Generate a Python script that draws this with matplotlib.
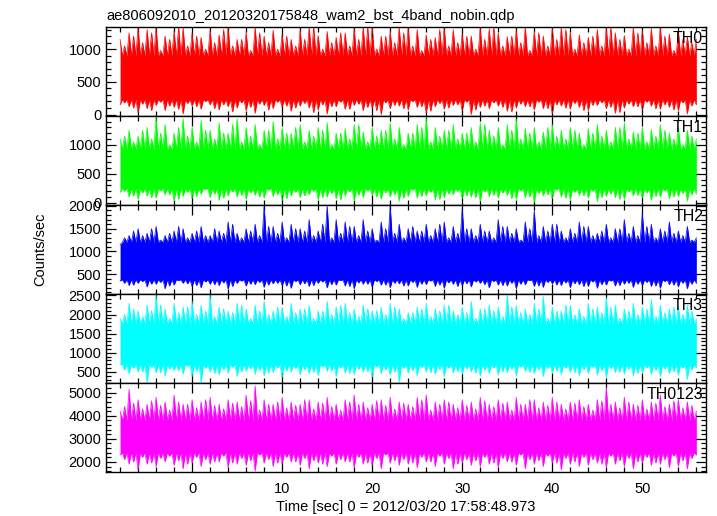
'''
plot.py

light curve of ae806092010 WAM bst data, 4 bands + sum
'''

# ---------------------------------------------------------------------------- #

import matplotlib as mpl
import matplotlib.pyplot as plt
from matplotlib.ticker import MultipleLocator
import numpy as np

mpl.rcParams['font.size']   = 10.5
mpl.rcParams['font.family'] = ['Liberation Sans', 'DejaVu Sans']

# ---------------------------------------------------------------------------- #

# Data.
# *_hi / *_lo : tallest spike / deepest dip at each whole second, t = -8 ... 56
# *_hi_half / *_lo_half : same at the half seconds in between, t = -7.5 ... 55.5
time_start = -8
time_stop  = 56

th0_hi = [1150, 1250, 1333, 1300, 1340, 1200, 1280, 1330, 1250, 1180, 1300, 1220, 1340,
          1150, 1260, 1340, 1200, 1290, 1230, 1150, 1300, 1340, 1210, 1270, 1180, 1250,
          1320, 1340, 1340, 1200, 1280, 1340, 1340, 1300, 1220, 1180, 1340, 1300, 1240,
          1200, 1340, 1310, 1250, 1190, 1300, 1340, 1270, 1200, 1330, 1340, 1260, 1220,
          1180, 1300, 1340, 1250, 1210, 1340, 1290, 1320, 1340, 1230, 1280, 1200, 1150]
th0_lo = [150, 120, 20, 90, 140, 60, 110, 10, 130, 80, 150, 70, 120, 100, 60, 20, 140,
          90, 110, 50, 130, 100, 70, 10, 120, 80, 140, 60, 100, 0, 90, 130, 70, 110, 20,
          120, 80, 140, 60, 0, 110, 90, 130, 50, 100, 120, 70, 90, 10, 130, 80, 110, 60,
          140, 90, 20, 100, 120, 70, 130, 80, 110, 60, 10, 150]
th0_hi_half = [1050, 1200, 1100, 1250, 980, 1150, 1340, 1050, 1200, 1000,
               1100, 1300, 1050, 1150, 980, 1250, 1100, 1000, 1200, 1050,
               1150, 1340, 1000, 1100, 1250, 1050, 1150, 1340, 1000, 1200,
               1100, 1250, 1050, 980, 1150, 1300, 1050, 1100, 1200, 1000,
               1150, 1340, 1050, 1200, 1100, 980, 1250, 1050, 1150, 1300,
               1000, 1100, 1200, 1050, 1340, 1150, 1000, 1250, 1100, 1050,
               1200, 980, 1150, 1100]
th0_lo_half = [180, 100, 160, 60, 190, 130, 80, 170, 120, 200,
               90, 150, 40, 180, 110, 160, 70, 190, 130, 100,
               170, 30, 150, 120, 190, 80, 160, 110, 60, 180,
               140, 90, 200, 120, 50, 170, 100, 150, 190, 70,
               130, 180, 110, 40, 160, 120, 190, 90, 150, 100,
               170, 60, 140, 180, 110, 30, 160, 120, 190, 90,
               150, 70, 180, 130]

th1_hi = [1100, 1250, 1150, 1300, 1490, 1350, 1200, 1450, 1300, 1420, 1250, 1380, 1200,
          1450, 1300, 1350, 1250, 1400, 1300, 1200, 1350, 1250, 1300, 1380, 1200, 1280,
          1350, 1220, 1300, 1250, 1380, 1300, 1200, 1350, 1480, 1300, 1250, 1350, 1200,
          1300, 1380, 1250, 1300, 1350, 1450, 1280, 1300, 1220, 1350, 1250, 1300, 1200,
          1280, 1350, 1250, 1300, 1380, 1220, 1300, 1260, 1350, 1200, 1300, 1250, 1100]
th1_lo = [180, 100, 60, 120, 80, 140, 30, 110, 70, 150, 90, 40, 120, 100, 60, 130, 80,
          110, 40, 120, 90, 140, 50, 100, 70, 120, 20, 90, 130, 60, 100, 30, 110, 80, 120,
          50, 90, 140, 70, 100, 20, 110, 80, 130, 60, 90, 0, 120, 70, 100, 50, 130, 80, 20,
          110, 90, 60, 120, 80, 40, 100, 70, 110, 30, 150]
th1_hi_half = [1150, 1050, 1250, 1100, 1200, 1000, 1300, 1150, 1050, 1250,
               1100, 1200, 1350, 1050, 1150, 1000, 1250, 1100, 1200, 1300,
               1050, 1150, 1250, 1000, 1200, 1100, 1350, 1050, 1150, 1250,
               1100, 1000, 1200, 1300, 1050, 1150, 1250, 1100, 1200, 1050,
               1350, 1150, 1000, 1250, 1100, 1200, 1050, 1300, 1150, 1100,
               1250, 1000, 1200, 1150, 1050, 1300, 1100, 1200, 1050, 1150,
               1250, 1100, 1000, 1150]
th1_lo_half = [200, 120, 170, 90, 210, 140, 60, 180, 110, 230,
               150, 80, 190, 130, 170, 100, 220, 140, 70, 180,
               120, 200, 90, 160, 50, 190, 130, 210, 100, 170,
               140, 80, 220, 110, 180, 60, 150, 200, 120, 90,
               190, 130, 170, 70, 210, 100, 160, 140, 220, 80,
               180, 120, 200, 90, 150, 60, 190, 130, 170, 110,
               210, 100, 160, 140]

th2_hi = [1150, 1350, 1500, 1400, 1550, 1350, 1450, 1500, 1400, 1550, 1350, 1450, 1650,
          1400, 1500, 1600, 2010, 1550, 1650, 1600, 1500, 1700, 1450, 2010, 1700, 1650,
          1550, 1700, 1500, 1650, 2010, 1600, 1500, 1450, 1600, 1500, 1650, 1550, 1950,
          1500, 1600, 1450, 1700, 1550, 1500, 1650, 1900, 1550, 1600, 1450, 1500, 1650,
          1550, 1400, 1600, 1500, 1700, 1550, 1850, 1600, 1500, 1650, 1450, 1550, 1300]
th2_lo = [350, 250, 300, 220, 280, 180, 260, 300, 230, 200, 280, 250, 170, 300, 240, 270,
          210, 290, 250, 190, 270, 230, 300, 200, 260, 240, 180, 280, 220, 260, 200, 290,
          240, 210, 270, 230, 190, 280, 250, 220, 300, 200, 260, 240, 180, 270, 230, 210,
          290, 250, 200, 270, 230, 190, 260, 240, 280, 210, 250, 230, 190, 270, 220, 180,
          300]
th2_hi_half = [1300, 1450, 1350, 1500, 1250, 1400, 1550, 1300, 1450, 1350,
               1500, 1400, 1600, 1300, 1450, 1350, 1550, 1400, 1300, 1500,
               1450, 1350, 1600, 1300, 1400, 1550, 1350, 1450, 1250, 1500,
               1400, 1300, 1550, 1450, 1350, 1600, 1300, 1400, 1500, 1350,
               1450, 1300, 1550, 1400, 1250, 1500, 1350, 1450, 1600, 1300,
               1400, 1550, 1350, 1450, 1300, 1500, 1400, 1350, 1550, 1300,
               1450, 1400, 1350, 1250]
th2_lo_half = [300, 260, 340, 280, 320, 240, 360, 290, 250, 330,
               270, 310, 230, 350, 280, 320, 260, 300, 240, 340,
               290, 250, 330, 270, 360, 230, 310, 280, 340, 260,
               300, 240, 320, 280, 350, 260, 310, 230, 290, 330,
               270, 340, 250, 300, 280, 360, 240, 320, 260, 310,
               290, 230, 330, 270, 350, 250, 300, 280, 320, 240,
               340, 260, 300, 280]

th3_hi = [1900, 2300, 2100, 2250, 2534, 2150, 2300, 2200, 2350, 2250, 2534, 2200, 2100,
          2300, 2150, 2250, 2350, 2100, 2200, 2300, 2150, 2250, 2100, 2350, 2200, 2300,
          2150, 2250, 2100, 2200, 2300, 2150, 2050, 2200, 2300, 2150, 2250, 2100, 2200,
          2350, 2150, 2250, 2200, 2534, 2250, 2150, 2300, 2480, 2200, 2100, 2250, 2150,
          2300, 2200, 2450, 2250, 2150, 2300, 2200, 2400, 2250, 2150, 2200, 2250, 1900]
th3_lo = [700, 450, 500, 220, 480, 400, 530, 450, 380, 220, 500, 420, 470, 380, 520, 440,
          400, 480, 350, 500, 430, 460, 400, 520, 380, 470, 430, 500, 360, 450, 420, 230,
          470, 400, 500, 440, 380, 470, 430, 500, 390, 460, 420, 480, 400, 510, 450, 380,
          470, 430, 490, 400, 460, 420, 350, 480, 440, 400, 470, 430, 380, 460, 410, 300,
          600]
th3_hi_half = [2000, 2150, 1950, 2100, 2250, 1900, 2050, 2200, 2000, 2100,
               1950, 2150, 2050, 2250, 1900, 2100, 2000, 2200, 1950, 2050,
               2150, 1900, 2100, 2000, 2250, 2050, 1950, 2150, 2100, 2000,
               2200, 1900, 2050, 2150, 1950, 2100, 2250, 2000, 2050, 1900,
               2150, 2100, 1950, 2200, 2050, 2000, 2150, 1900, 2100, 2250,
               2000, 1950, 2150, 2050, 2200, 1900, 2100, 2000, 2150, 1950,
               2050, 2200, 2000, 2100]
th3_lo_half = [550, 600, 500, 620, 480, 570, 530, 650, 510, 590,
               460, 560, 620, 500, 580, 540, 470, 610, 520, 590,
               560, 490, 630, 530, 600, 460, 570, 510, 640, 550,
               500, 590, 530, 620, 480, 560, 600, 510, 580, 470,
               540, 610, 500, 570, 630, 490, 550, 590, 520, 600,
               480, 560, 620, 530, 590, 500, 570, 460, 610, 540,
               580, 510, 600, 550]

th0123_hi = [4200, 5150, 4700, 4500, 4800, 4600, 4900, 4500, 4700, 4600, 4800, 4500, 4700,
             4600, 4900, 5300, 4700, 4500, 4800, 4600, 4500, 4700, 4600, 4800, 4500, 4700,
             4900, 4600, 4500, 4700, 4800, 4600, 4500, 4800, 4900, 4600, 4700, 4500, 4700,
             4600, 4800, 4500, 4700, 4600, 4800, 4500, 4700, 4600, 4800, 4500, 4600, 4700,
             4500, 4700, 5250, 4600, 4800, 4500, 4700, 4600, 4900, 4500, 4700, 4600, 4200]
th0123_lo = [2300, 1900, 1650, 1900, 1800, 2000, 1850, 1700, 1950, 1800, 1900, 2000, 1750,
             1900, 1850, 1600, 1950, 1800, 1900, 2000, 1850, 1700, 1950, 1800, 1900, 2000,
             1750, 1900, 1850, 1700, 1950, 1850, 1900, 1750, 2000, 1800, 1900, 1700, 1950,
             1850, 1800, 1900, 1750, 2000, 1850, 1700, 1900, 1800, 1950, 1650, 1900, 1800,
             1850, 1950, 1750, 1900, 1800, 1700, 1950, 1850, 1900, 1750, 1800, 1700, 2300]
th0123_hi_half = [4400, 4550, 4300, 4650, 4450, 4250, 4600, 4500, 4350, 4700,
                  4450, 4300, 4550, 4400, 4650, 4250, 4500, 4600, 4350, 4450,
                  4700, 4300, 4550, 4400, 4250, 4600, 4500, 4350, 4650, 4450,
                  4300, 4550, 4400, 4700, 4250, 4500, 4600, 4350, 4450, 4300,
                  4650, 4400, 4550, 4250, 4500, 4700, 4350, 4450, 4600, 4300,
                  4550, 4400, 4250, 4650, 4500, 4350, 4600, 4450, 4300, 4550,
                  4400, 4650, 4350, 4450]
th0123_lo_half = [2100, 2000, 2200, 1950, 2150, 2250, 2050, 1900, 2200, 2100,
                  2000, 2250, 1950, 2150, 2050, 2300, 2100, 1950, 2200, 2000,
                  2150, 2050, 1900, 2250, 2100, 2000, 2200, 1950, 2150, 2300,
                  2050, 2100, 1950, 2200, 2000, 2250, 2150, 1900, 2100, 2050,
                  2200, 1950, 2150, 2000, 2300, 2100, 2050, 2250, 1950, 2150,
                  2000, 2200, 2100, 1900, 2250, 2050, 2150, 2000, 2200, 1950,
                  2100, 2250, 2050, 2150]

# dense part of each band (where the points overlap into solid colour)
th0_core    = (230, 900)
th1_core    = (250, 920)
th2_core    = (380, 1200)
th3_core    = (700, 1750)
th0123_core = (2400, 3800)

names  = ['TH0', 'TH1', 'TH2', 'TH3', 'TH0123']
his    = [th0_hi, th1_hi, th2_hi, th3_hi, th0123_hi]
los    = [th0_lo, th1_lo, th2_lo, th3_lo, th0123_lo]
his2   = [th0_hi_half, th1_hi_half, th2_hi_half, th3_hi_half, th0123_hi_half]
los2   = [th0_lo_half, th1_lo_half, th2_lo_half, th3_lo_half, th0123_lo_half]
cores  = [th0_core, th1_core, th2_core, th3_core, th0123_core]
colors = ['#ff0000', '#00ff00', '#0000ff', '#00ffff', '#ff00ff']

# y ranges, major and minor tick spacing of each panel
ylims   = [(-26, 1333), (-41, 1490), (62, 2015), (210, 2534), (1565, 5417)]
ymajors = [500, 500, 500, 500, 1000]
yminors = [100, 100, 100, 100, 200]

xlim = (-9.55, 57.1)

# ---------------------------------------------------------------------------- #

fig, axes = plt.subplots(5, 1, sharex=True, figsize=(7.17, 5.16), dpi=100)
fig.subplots_adjust(left=0.148, right=0.985, top=0.947, bottom=0.0853, hspace=0)

# quarter second grid: spikes on the whole and half seconds,
# back to the dense band in between
xs = np.arange(time_start, time_stop + 0.1, 0.25)

for ax, name, hi, lo, hi2, lo2, core, c, ylim, ymaj, ymin in zip(
        axes, names, his, los, his2, los2, cores, colors, ylims, ymajors, yminors):
    upper = np.full(len(xs), float(core[1]))
    lower = np.full(len(xs), float(core[0]))
    upper[0::4] = hi
    upper[2::4] = hi2
    lower[0::4] = lo
    lower[2::4] = lo2
    ax.fill_between(xs, lower, upper, color=c, lw=0)
    ax.plot(xs, upper, color=c, lw=0.5)
    ax.plot(xs, lower, color=c, lw=0.5)

    ax.set_ylim(ylim)
    ax.set_xlim(xlim)
    ax.yaxis.set_major_locator(MultipleLocator(ymaj))
    ax.yaxis.set_minor_locator(MultipleLocator(ymin))
    ax.xaxis.set_major_locator(MultipleLocator(10))
    ax.xaxis.set_minor_locator(MultipleLocator(2))
    ax.tick_params(which='both', direction='in', top=True, right=True,
                   width=0.9, labelsize=10.5)
    ax.tick_params(which='major', length=7)
    ax.tick_params(which='minor', length=3.5)
    ax.tick_params(axis='x', pad=7)
    for s in ax.spines.values():
        s.set_linewidth(1.0)

    ax.text(0.995, 0.96, name, transform=ax.transAxes, ha='right', va='top',
            fontsize=11.5)

axes[-1].set_xlabel('Time [sec] 0 = 2012/03/20 17:58:48.973', labelpad=3)
fig.text(0.056, 0.516, 'Counts/sec', rotation=90, ha='center', va='center')
fig.text(0.149, 0.961, 'ae806092010_20120320175848_wam2_bst_4band_nobin.qdp',
         ha='left', va='baseline')

plt.savefig('out.png')
